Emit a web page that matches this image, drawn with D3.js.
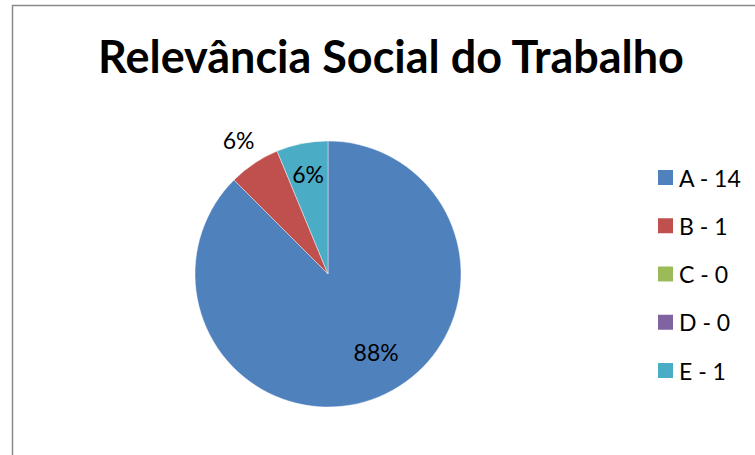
<!DOCTYPE html>
<html><head><meta charset="utf-8">
<script src="https://cdn.jsdelivr.net/npm/d3@7"></script>
<style>html,body{margin:0;padding:0;background:#fff;}svg{display:block;}</style>
</head><body>
<svg id="chart" width="755" height="455"></svg>
<script>
const title = "Relevância Social do Trabalho";
const categories = ["A", "B", "C", "D", "E"];
const values = [14, 1, 0, 0, 1];
const colors = ["#4F81BD", "#C0504D", "#9BBB59", "#8064A2", "#4BACC6"];

const svg = d3.select("#chart");
const font = "Lato, 'Open Sans', sans-serif";

// frame
svg.append("rect").attr("x", 12.5).attr("y", 5.5).attr("width", 800).attr("height", 500)
  .attr("fill", "#fff").attr("stroke", "#8a8a8a").attr("stroke-width", 1.5);

// title
const t = svg.append("text").attr("x", 391).attr("y", 73).attr("text-anchor", "middle")
  .attr("font-family", font).attr("font-weight", "bold").attr("font-size", 40)
  .attr("fill", "#000").text(title);
const tw = t.node().getComputedTextLength();
t.attr("font-size", 40 * 586 / tw);

const cx = 328, cy = 274, R = 133;
const total = d3.sum(values);
const pie = d3.pie().sort(null).value(d => d.v);
const data = pie(categories.map((c, i) => ({c, v: values[i], i})));
const arc = d3.arc().innerRadius(0).outerRadius(R);

const g = svg.append("g").attr("transform", `translate(${cx},${cy})`);
g.selectAll("path").data(data.filter(d => d.value > 0)).join("path")
  .attr("d", arc).attr("fill", d => colors[d.data.i])
  .attr("stroke", "#fff").attr("stroke-width", 0.6).attr("stroke-opacity", 0.7);

// labels (placement: radius fraction and angle nudge per slice, Excel best-fit look)
const labelPlace = {A: [0.69, -0.16], B: [1.21, 0], E: [0.77, 0]};
g.selectAll("text.lbl").data(data.filter(d => d.value > 0)).join("text")
  .attr("class", "lbl")
  .attr("font-family", font).attr("font-size", 23).attr("fill", "#000")
  .attr("text-anchor", "middle").attr("dominant-baseline", "central")
  .attr("x", d => { const p = labelPlace[d.data.c]; const a = (d.startAngle + d.endAngle) / 2 + p[1]; return Math.sin(a) * R * p[0]; })
  .attr("y", d => { const p = labelPlace[d.data.c]; const a = (d.startAngle + d.endAngle) / 2 + p[1]; return -Math.cos(a) * R * p[0]; })
  .text(d => Math.round(d.value / total * 100) + "%");

// legend
const ly = d3.scalePoint().domain(categories).range([177.5, 370.5]);
const lg = svg.append("g");
categories.forEach((c, i) => {
  lg.append("rect").attr("x", 658).attr("y", ly(c) - 7.5).attr("width", 15).attr("height", 15).attr("fill", colors[i]);
  lg.append("text").attr("x", 679).attr("y", ly(c)).attr("dominant-baseline", "central")
    .attr("font-family", font).attr("font-size", 23).attr("fill", "#000")
    .text(`${c} - ${values[i]}`);
});
</script>
</body></html>
